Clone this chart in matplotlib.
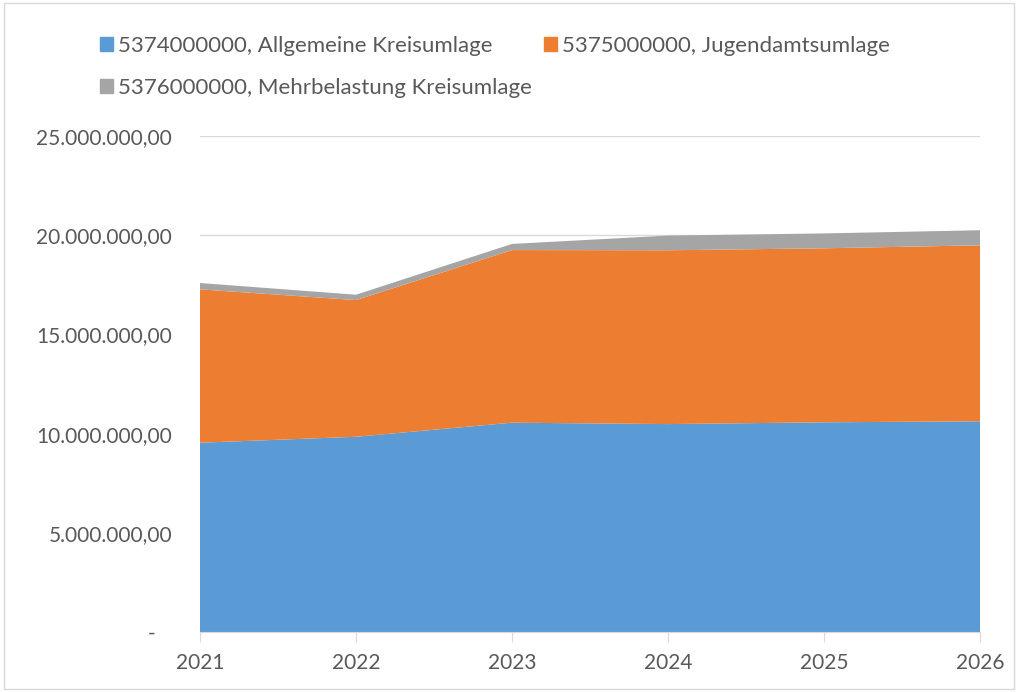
import numpy as np
import matplotlib.pyplot as plt
from matplotlib.patches import Rectangle, Patch

# Werte (Euro)
jahre = [2021, 2022, 2023, 2024, 2025, 2026]
allgemeine_kreisumlage = [9540000, 9840000, 10550000, 10480000, 10570000, 10620000]
jugendamtsumlage = [7730000, 6890000, 8700000, 8760000, 8770000, 8870000]
mehrbelastung = [320000, 270000, 310000, 740000, 750000, 760000]

namen = ['5374000000, Allgemeine Kreisumlage',
         '5375000000, Jugendamtsumlage',
         '5376000000, Mehrbelastung Kreisumlage']
farben = ['#5b9bd5', '#ed7d31', '#a5a5a5']

y_ticks = [0, 5000000, 10000000, 15000000, 20000000, 25000000]

plt.rcParams['font.family'] = ['Lato', 'DejaVu Sans']
textfarbe = '#595959'

fig = plt.figure(figsize=(10.18, 6.92), dpi=100)
ax = fig.add_axes([200 / 1018, 1 - 632 / 692, 780 / 1018, 496 / 692])

ax.stackplot(jahre, allgemeine_kreisumlage, jugendamtsumlage, mehrbelastung,
             colors=farben, linewidth=0)

ax.set_xlim(jahre[0], jahre[-1])
ax.set_ylim(0, 25000000)
ax.set_xticks(jahre)
ax.set_xticklabels([str(j) for j in jahre])
ax.set_yticks(y_ticks)


def fmt(v):
    if v == 0:
        return '-   '
    s = f'{int(v):,}'.replace(',', '.')
    return s + ',00'


ax.set_yticklabels([fmt(v) for v in y_ticks])
ax.yaxis.grid(True, color='#d9d9d9', linewidth=1)
ax.set_axisbelow(True)
for s in ['top', 'right', 'left']:
    ax.spines[s].set_visible(False)
ax.spines['bottom'].set_color('#d9d9d9')
ax.spines['bottom'].set_zorder(5)
ax.tick_params(axis='y', length=0, pad=20, labelsize=15, labelcolor=textfarbe)
ax.tick_params(axis='x', length=7, color='#d9d9d9', pad=8, labelsize=15,
               labelcolor=textfarbe)

handles = [Patch(color=c) for c in farben]
# Reihenfolge so, dass die Legende zeilenweise gefuellt wird
order = [0, 2, 1]
leg = fig.legend([handles[i] for i in order], [namen[i] for i in order],
                 loc='upper left', bbox_to_anchor=(80 / 1018, 1 - 16 / 692),
                 ncol=2, frameon=False, fontsize=16, labelcolor=textfarbe,
                 handlelength=0.6, handleheight=0.6, handletextpad=0.2,
                 columnspacing=0.55, labelspacing=0.98)

fig.patches.append(Rectangle((0.004, 0.004), 0.992, 0.992, transform=fig.transFigure,
                             fill=False, edgecolor='#d9d9d9', linewidth=1))

fig.savefig('out.png', dpi=100)
